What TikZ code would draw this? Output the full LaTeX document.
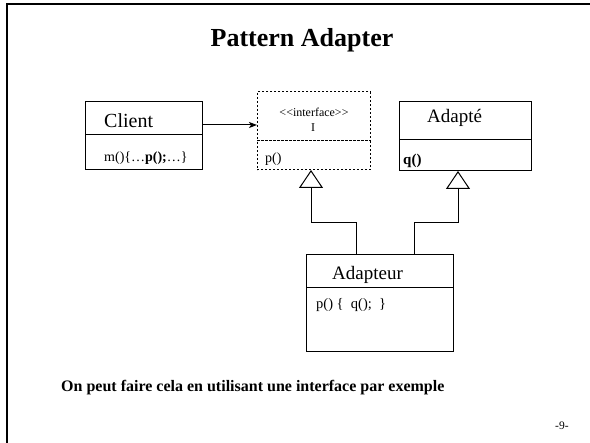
\documentclass[tikz,border=0pt]{standalone}
\usepackage{fontspec}
\setmainfont{Liberation Serif}
\usetikzlibrary{arrows.meta}

\tikzset{
  umlbox/.style={draw, rectangle, line width=1pt, inner sep=0pt, outer sep=0pt, anchor=north west},
  ifacebox/.style={umlbox, dash pattern=on 2.2pt off 1.8pt},
  label/.style={inner sep=0pt, anchor=base west},
  uses/.style={line width=1pt, -{Stealth[length=8pt,width=6pt,inset=2pt]}},
  implements/.style={line width=1pt, -{Triangle[open,length=18pt,width=24pt,line width=1pt]}},
  fs/.style={font=\fontsize{#1}{#1}\selectfont}
}

\begin{document}
\begin{tikzpicture}[x=1pt,y=-1pt]
  \useasboundingbox (0,0) rectangle (590,443);

  % slide frame (top and left edges)
  \draw[line width=2.5pt] (7,443) -- (7,4) -- (590,4);

  % title
  \node[inner sep=0pt, anchor=base, fs=26] (title) at (302,47) {\bfseries Pattern Adapter};

  % Client class
  \node[umlbox, minimum width=117pt, minimum height=33pt] (clientH) at (85,102) {};
  \node[umlbox, minimum width=117pt, minimum height=35pt] (clientB) at (85,135) {};
  \node[label, fs=20] (clientN) at (104,128) {Client};
  \node[label, fs=14] (clientM) at (104,162) {m()\{…\textbf{p();}…\}};

  % interface I
  \node[ifacebox, minimum width=113pt, minimum height=49pt] (ifaceH) at (257,92) {};
  \node[ifacebox, minimum width=113pt, minimum height=29pt] (ifaceB) at (257,141) {};
  \node[inner sep=0pt, anchor=base, fs=12] (ifaceS) at (314,117) {<{}<interface>{}>};
  \node[inner sep=0pt, anchor=base, fs=12] (ifaceN) at (313,132) {I};
  \node[label, fs=14] (ifaceM) at (265,163) {p()};

  % Adapte class
  \node[umlbox, minimum width=132pt, minimum height=38pt] (adapteH) at (399,102) {};
  \node[umlbox, minimum width=132pt, minimum height=31pt] (adapteB) at (399,140) {};
  \node[label, fs=19] (adapteN) at (427,123) {Adapté};
  \node[label, fs=15] (adapteM) at (403,165) {\textbf{q()}};

  % Adapteur class
  \node[umlbox, minimum width=147pt, minimum height=33pt] (adapteurH) at (306,255) {};
  \node[umlbox, minimum width=147pt, minimum height=64pt] (adapteurB) at (306,288) {};
  \node[label, fs=19] (adapteurN) at (332,280) {Adapteur};
  \node[label, fs=14.5] (adapteurM) at (316,309) {p() \{\ \ q();\ \ \}};

  % association Client -> I
  \coordinate (cOut) at ([yshift=-6.5pt]clientH.east);
  \draw[uses] (cOut) -- (cOut -| ifaceH.west);

  % realisation / inheritance links
  \coordinate (jL) at ([xshift=50pt]adapteurH.north west);
  \coordinate (jR) at ([xshift=108pt]adapteurH.north west);
  \coordinate (tipI) at ([xshift=-2.5pt]ifaceB.south);
  \coordinate (tipA) at ([xshift=-7pt]adapteB.south);
  \draw[implements] (jL) -- ++(0,-32) -| (tipI);
  \draw[implements] (jR) -- ++(0,-32) -| (tipA);

  % footer text
  \node[label, fs=16] (note) at (61,392) {\bfseries On peut faire cela en utilisant une interface par exemple};
  \node[label, fs=11.5] (page) at (555,430) {-9-};
\end{tikzpicture}
\end{document}
